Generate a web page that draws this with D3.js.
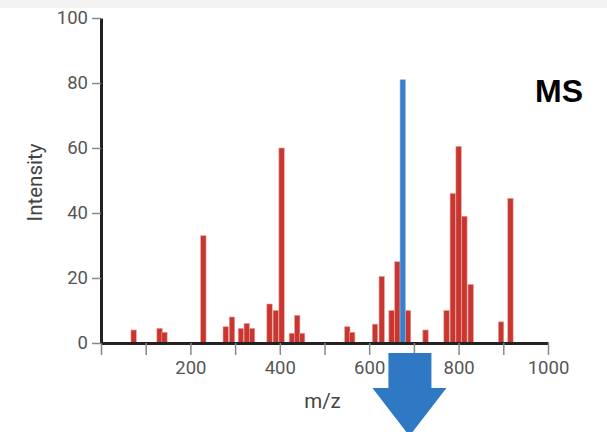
<!DOCTYPE html>
<html>
<head>
<meta charset="utf-8">
<script src="https://cdn.jsdelivr.net/npm/d3@7"></script>
<style>
    body { margin: 0; background: #fff; }
    svg { display: block; font-family: Roboto, "Noto Sans", sans-serif; }
    .axis text { fill: #555; font-size: 18.5px; }
    .axis .tick line { stroke: #888; stroke-width: 1.5; }
    .axis path.domain { stroke: #222; stroke-width: 3; }
</style>
</head>
<body>
<script>
// peak positions (m/z) and intensities
const peakMz = [73, 131, 142, 229, 279, 293, 313, 326, 338, 377, 391, 404, 427, 439, 450,
                551, 562, 613, 628, 650, 663, 687, 726, 773, 787, 800, 813, 827, 895, 916];
const peakIntensity = [4, 4.5, 3.3, 33, 5, 8, 4.5, 6, 4.5, 12, 10, 60, 3, 8.5, 3,
                       5, 3.3, 5.8, 20.5, 10, 25, 10, 4, 10, 46, 60.5, 39, 18, 6.5, 44.5];
const selectedMz = [675];
const selectedIntensity = [81];

const xTicks = [0, 100, 200, 300, 400, 500, 600, 700, 800, 900, 1000];
const xLabelled = [200, 400, 600, 800, 1000];
const yTicks = [0, 20, 40, 60, 80, 100];

const size = {w: 607, h: 432};
const margin = {l: 101, r: 59, t: 18, b: 89};
const chart = {w: size.w - margin.l - margin.r, h: size.h - margin.t - margin.b};
const barHalf = 6; // half bar width in m/z units

let svg = d3.select('body').append('svg')
    .attr('width', size.w)
    .attr('height', size.h);

// light band at the very top
svg.append('rect')
    .attr('x', 0).attr('y', 0)
    .attr('width', size.w).attr('height', 8)
    .attr('fill', '#f3f3f3');

let g = svg.append('g')
    .attr('transform', `translate(${margin.l}, ${margin.t})`);

let scaleX = d3.scaleLinear().domain([0, 1000]).range([0, chart.w]);
let scaleY = d3.scaleLinear().domain([0, 100]).range([chart.h, 0]);

let peaks = peakMz.map((d, i) => ({mz: d, v: peakIntensity[i]}));
let selected = selectedMz.map((d, i) => ({mz: d, v: selectedIntensity[i]}));

//bars
g.selectAll('rect.peak')
    .data(peaks)
    .join('rect')
    .attr('class', 'peak')
    .attr('x', d => scaleX(d.mz - barHalf))
    .attr('y', d => scaleY(d.v))
    .attr('width', d => scaleX(d.mz + barHalf) - scaleX(d.mz - barHalf))
    .attr('height', d => scaleY(0) - scaleY(d.v))
    .attr('fill', '#c9352f')
    .attr('stroke', '#e6a09b')
    .attr('stroke-width', 0.6);

g.selectAll('rect.selected')
    .data(selected)
    .join('rect')
    .attr('class', 'selected')
    .attr('x', d => scaleX(d.mz - barHalf))
    .attr('y', d => scaleY(d.v))
    .attr('width', d => scaleX(d.mz + barHalf) - scaleX(d.mz - barHalf))
    .attr('height', d => scaleY(0) - scaleY(d.v))
    .attr('fill', '#3a7fcb')
    .attr('stroke', '#8fb8e4')
    .attr('stroke-width', 0.6);

//axes
let axisX = d3.axisBottom(scaleX)
    .tickValues(xTicks)
    .tickSize(12)
    .tickSizeOuter(0)
    .tickPadding(6)
    .tickFormat(d => xLabelled.includes(d) ? d : '');

g.append('g')
    .attr('class', 'axis axis-x')
    .attr('transform', `translate(0, ${chart.h})`)
    .call(axisX);

let axisY = d3.axisLeft(scaleY)
    .tickValues(yTicks)
    .tickSize(9)
    .tickSizeOuter(0)
    .tickPadding(4);

g.append('g')
    .attr('class', 'axis axis-y')
    .call(axisY);

g.selectAll('.axis').attr('font-family', null).attr('font-size', null);
g.selectAll('.axis text').attr('fill', null);
g.selectAll('.axis .tick line').attr('stroke', null);
g.selectAll('.axis path.domain').attr('stroke', null);

//labels
g.append('text')
    .attr('x', chart.w / 2 - 2)
    .attr('y', chart.h + 65)
    .attr('text-anchor', 'middle')
    .attr('fill', '#444')
    .style('font-size', '20.5px')
    .text('m/z');

g.append('text')
    .attr('transform', `translate(${-margin.l + 42}, ${chart.h / 2 + 2}) rotate(-90)`)
    .attr('text-anchor', 'middle')
    .attr('fill', '#444')
    .style('font-size', '20.5px')
    .text('Intensity');

svg.append('text')
    .attr('x', 535)
    .attr('y', 102)
    .attr('fill', '#000')
    .style('font-family', 'Liberation Sans, Arial, sans-serif')
    .style('font-size', '32px')
    .style('font-weight', '700')
    .text('MS');

//big down arrow under the selected peak
let cx = scaleX(690) + margin.l;
let arrowTop = 353, arrowNeck = 388, arrowTip = 436;
svg.append('path')
    .attr('d', `M${cx - 21},${arrowTop} L${cx + 22},${arrowTop} L${cx + 22},${arrowNeck} L${cx + 37},${arrowNeck}
                L${cx},${arrowTip} L${cx - 37},${arrowNeck} L${cx - 21},${arrowNeck} Z`)
    .attr('fill', '#2f78c4');
</script>
</body>
</html>
